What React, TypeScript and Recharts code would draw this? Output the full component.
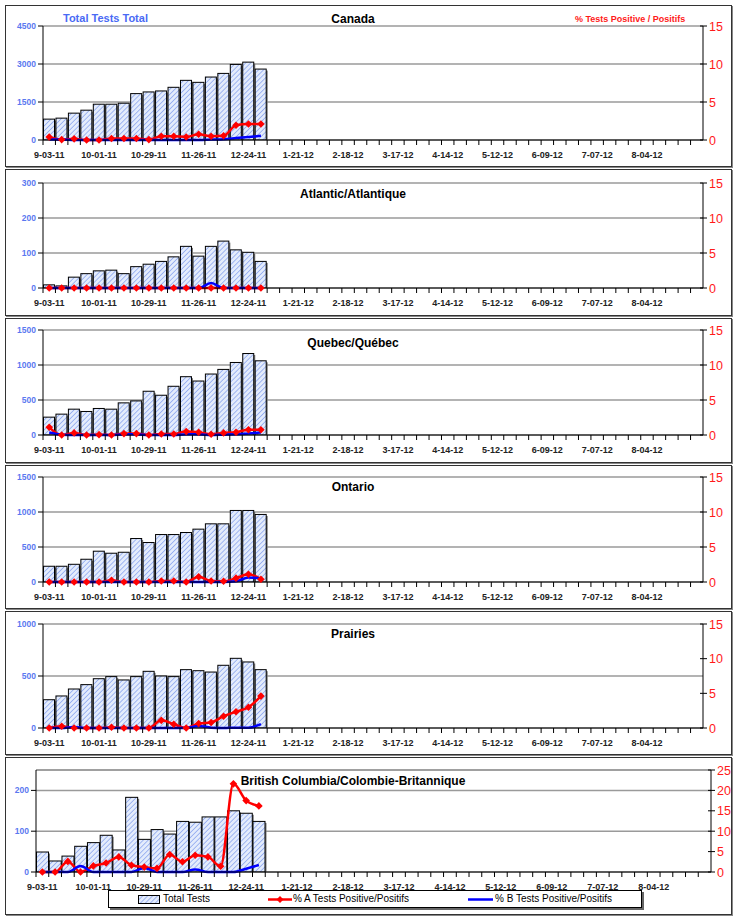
import { ComposedChart, Bar, Line, XAxis, YAxis, CartesianGrid, ReferenceLine } from "recharts";

// weekly categories, 9-03-11 .. 9-01-12
const WEEKS = [
  "9-03-11", "9-10-11", "9-17-11", "9-24-11", "10-01-11", "10-08-11", "10-15-11", "10-22-11",
  "10-29-11", "11-05-11", "11-12-11", "11-19-11", "11-26-11", "12-03-11", "12-10-11", "12-17-11",
  "12-24-11", "12-31-11", "1-07-12", "1-14-12", "1-21-12", "1-28-12", "2-04-12", "2-11-12",
  "2-18-12", "2-25-12", "3-03-12", "3-10-12", "3-17-12", "3-24-12", "3-31-12", "4-07-12",
  "4-14-12", "4-21-12", "4-28-12", "5-05-12", "5-12-12", "5-19-12", "5-26-12", "6-02-12",
  "6-09-12", "6-16-12", "6-23-12", "6-30-12", "7-07-12", "7-14-12", "7-21-12", "7-28-12",
  "8-04-12", "8-11-12", "8-18-12", "8-25-12", "9-01-12",
];

const CANADA_TOTAL = [824, 863, 1060, 1177, 1413, 1413, 1452, 1831, 1897, 1936, 2080, 2355, 2276, 2485, 2629, 2983, 3074, 2800];
const CANADA_A = [0.4, 0.05, 0.15, 0, 0, 0.2, 0.2, 0.2, 0.05, 0.5, 0.5, 0.4, 0.75, 0.5, 0.55, 1.95, 2.1, 2.1];
const CANADA_B = [0.05, 0.05, 0, 0, 0, 0, 0, 0, 0, 0, 0, 0, 0, 0.05, 0.1, 0.25, 0.4, 0.55];

const ATL_TOTAL = [9, 6, 31, 41, 49, 51, 41, 61, 68, 76, 89, 119, 91, 119, 134, 109, 102, 76];
const ATL_A = [0, 0, 0, 0, 0, 0, 0, 0, 0, 0, 0, 0, 0, 0, 0, 0, 0, 0];
const ATL_B = [0, 0, 0, 0, 0, 0, 0, 0, 0, 0, 0, 0, 0, 0.7, 0, 0, 0, 0];

const QC_TOTAL = [255, 298, 369, 336, 379, 369, 459, 487, 625, 568, 696, 833, 771, 871, 937, 1036, 1164, 1060];
const QC_A = [1.1, 0, 0.3, 0, 0.05, 0, 0.2, 0.2, 0, 0.15, 0.15, 0.5, 0.4, 0.1, 0.3, 0.4, 0.75, 0.75];
const QC_B = [0.35, 0.05, 0, 0, 0, 0, 0.1, 0.1, 0, 0, 0, 0.1, 0.1, 0, 0.05, 0.1, 0.2, 0.35];

const ON_TOTAL = [225, 225, 253, 325, 440, 411, 425, 621, 564, 678, 678, 707, 755, 831, 831, 1022, 1022, 965];
const ON_A = [0, 0, 0, 0, 0, 0.25, 0, 0, 0, 0.15, 0.15, 0, 0.75, 0.15, 0.1, 0.55, 1.1, 0.4];
const ON_B = [0, 0, 0, 0, 0, 0, 0, 0, 0, 0, 0, 0, 0, 0, 0, 0.1, 0.65, 0.5];

const PR_TOTAL = [272, 308, 375, 417, 474, 494, 462, 494, 545, 500, 494, 561, 551, 538, 603, 670, 635, 561];
const PR_A = [0, 0.25, 0, 0, 0, 0.1, 0, 0, 0, 1.1, 0.55, 0, 0.65, 0.8, 1.7, 2.35, 3.0, 4.6];
const PR_B = [0, 0, 0.15, 0, 0, 0, 0, 0, 0, 0, 0, 0, 0.3, 0.05, 0, 0.05, 0.05, 0.55];

const BC_TOTAL = [49, 27, 39, 63, 72, 90, 54, 183, 80, 104, 93, 124, 122, 135, 135, 150, 144, 124];
const BC_A = [0, 0, 2.6, 0, 1.5, 2.2, 3.7, 1.65, 1.2, 0.9, 4.3, 2.5, 4.1, 3.7, 1.4, 21.6, 17.5, 16.2];
const BC_B = [0, 0, 0, 1.5, 0, 0, 0, 0, 1.0, 0, 0, 0, 0.6, 0, 0, 0, 0.8, 1.7];

const PCT_TICKS = [0, 5, 10, 15];
const PCT_TICKS_BC = [0, 5, 10, 15, 20, 25];

// layout: box = frame top/bottom, plot = [top, bottom, left, right]
const PANELS = [
  { title: "Canada", total: CANADA_TOTAL, a: CANADA_A, b: CANADA_B, leftTicks: [0, 1500, 3000, 4500], leftMax: 4500, rightTicks: PCT_TICKS, box: [5, 167], plot: [26, 140, 43, 703], titleY: 19 },
  { title: "Atlantic/Atlantique", total: ATL_TOTAL, a: ATL_A, b: ATL_B, leftTicks: [0, 100, 200, 300], leftMax: 300, rightTicks: PCT_TICKS, box: [169, 316], plot: [183, 288, 43, 703], titleY: 194 },
  { title: "Quebec/Québec", total: QC_TOTAL, a: QC_A, b: QC_B, leftTicks: [0, 500, 1000, 1500], leftMax: 1500, rightTicks: PCT_TICKS, box: [318, 463], plot: [330, 435, 43, 703], titleY: 343 },
  { title: "Ontario", total: ON_TOTAL, a: ON_A, b: ON_B, leftTicks: [0, 500, 1000, 1500], leftMax: 1500, rightTicks: PCT_TICKS, box: [465, 609], plot: [477, 582, 43, 703], titleY: 487 },
  { title: "Prairies", total: PR_TOTAL, a: PR_A, b: PR_B, leftTicks: [0, 500, 1000], leftMax: 1000, rightTicks: PCT_TICKS, box: [611, 755], plot: [624, 728, 43, 703], titleY: 634 },
  { title: "British Columbia/Colombie-Britannique", total: BC_TOTAL, a: BC_A, b: BC_B, leftTicks: [0, 100, 200], leftMax: 250, rightTicks: PCT_TICKS_BC, box: [757, 915], plot: [770, 872, 36, 711], titleY: 781 },
];

const FONT = "'Liberation Sans', Arial, sans-serif";

function WeekTick(props: any) {
  const { x, y, index, payload, band } = props;
  const edge = x - band / 2;
  return (
    <g>
      <line x1={edge} x2={edge} y1={y} y2={y + 5} stroke="#000" strokeWidth={1} />
      {index % 4 === 0 && index < 52 && (
        <text x={x} y={y + 18} textAnchor="middle" fontSize={9} fontWeight="bold" fill="#222" fontFamily={FONT}>
          {payload.value}
        </text>
      )}
    </g>
  );
}

function LeftTick(props: any) {
  const { x, y, payload } = props;
  return (
    <g>
      <line x1={x - 5} x2={x} y1={y} y2={y} stroke="#000" />
      <text x={x - 7} y={y + 3} textAnchor="end" fontSize={8.5} fontWeight="bold" fill="#5a78f0" fontFamily={FONT}>
        {payload.value}
      </text>
    </g>
  );
}

function RightTick(props: any) {
  const { x, y, payload } = props;
  return (
    <g>
      <line x1={x - 3} x2={x + 4} y1={y} y2={y} stroke="#000" />
      <text x={x + 6} y={y + 4.5} fontSize={12.5} fill="#ff1a1a" fontFamily={FONT}>
        {payload.value}
      </text>
    </g>
  );
}

function Diamond(props: any) {
  const { cx, cy, index, value } = props;
  if (cx == null || cy == null || value == null) return <g key={index} />;
  const r = 3.8;
  return (
    <polygon
      key={index}
      points={`${cx},${cy - r} ${cx + r},${cy} ${cx},${cy + r} ${cx - r},${cy}`}
      fill="#ff0000"
    />
  );
}

function ShadowBar(props: any) {
  const { x, y, width, height } = props;
  if (!height || height <= 0) return <g />;
  return (
    <g>
      <rect x={x + 1.5} y={y + 1.5} width={width} height={height - 1.5} fill="#777" />
      <rect x={x} y={y} width={width} height={height} fill="url(#hatch)" stroke="#000" strokeWidth={1} />
    </g>
  );
}

function RegionChart({ p }: { p: any }) {
  const [pt, pb, pl, pr] = p.plot;
  const MT = 10;
  const XH = 30;
  const LW = 30;
  const RW = 25;
  const h = pb - pt + MT + XH;
  const band = (pr - pl) / WEEKS.length;
  const rows = WEEKS.map((w, i) => ({ week: w, total: p.total[i], a: p.a[i], b: p.b[i] }));
  const rightMax = p.rightTicks[p.rightTicks.length - 1];
  return (
    <div style={{ position: "absolute", left: 0, top: pt - MT, width: 740, height: h }}>
      <ComposedChart
        width={740}
        height={h}
        data={rows}
        margin={{ top: MT, bottom: 0, left: pl - LW, right: 740 - pr - RW }}
        barCategoryGap={0.5}
      >
        <CartesianGrid vertical={false} stroke="#9a9a9a" strokeWidth={1.5} />
        <XAxis
          dataKey="week"
          interval={0}
          height={XH}
          tickSize={0}
          tickMargin={0}
          tickLine={false}
          axisLine={{ stroke: "#000" }}
          tick={(t: any) => <WeekTick {...t} band={band} />}
        />
        <YAxis
          domain={[0, p.leftMax]}
          ticks={p.leftTicks}
          interval={0}
          width={LW}
          tickSize={0}
          tickMargin={0}
          tickLine={false}
          axisLine={{ stroke: "#000" }}
          tick={(t: any) => <LeftTick {...t} />}
          allowDataOverflow
        />
        <YAxis
          yAxisId="right"
          orientation="right"
          domain={[0, rightMax]}
          ticks={p.rightTicks}
          interval={0}
          width={RW}
          tickSize={0}
          tickMargin={0}
          tickLine={false}
          axisLine={{ stroke: "#000" }}
          tick={(t: any) => <RightTick {...t} />}
        />
        {p.leftMax !== p.leftTicks[p.leftTicks.length - 1] && (
          <ReferenceLine y={p.leftMax} stroke="#9a9a9a" strokeWidth={1.5} />
        )}
        <Bar dataKey="total" shape={(s: any) => <ShadowBar {...s} />} isAnimationActive={false} />
        <Line yAxisId="right" type="monotone" dataKey="a" stroke="#ff0000" strokeWidth={2.5} dot={false} isAnimationActive={false} />
        <Line yAxisId="right" type="monotone" dataKey="b" stroke="#0000ff" strokeWidth={2.5} dot={false} isAnimationActive={false} />
        <Line yAxisId="right" type="monotone" dataKey="a" stroke="none" dot={(d: any) => <Diamond {...d} />} isAnimationActive={false} />
      </ComposedChart>
    </div>
  );
}

export default function App() {
  return (
    <div style={{ position: "absolute", left: 0, top: 0, width: 740, height: 920, background: "#fff", fontFamily: FONT }}>
      <svg width={0} height={0} style={{ position: "absolute" }}>
        <defs>
          <pattern id="hatch" width={3.5} height={3.5} patternUnits="userSpaceOnUse" patternTransform="rotate(45)">
            <rect width={3.5} height={3.5} fill="#e4ecfc" />
            <line x1={0} y1={0} x2={0} y2={3.5} stroke="#89a4ee" strokeWidth={1.5} />
          </pattern>
        </defs>
      </svg>

      {PANELS.map((p) => (
        <div
          key={p.title + "-box"}
          style={{
            position: "absolute",
            left: 5,
            top: p.box[0],
            width: 727,
            height: p.box[1] - p.box[0],
            border: "1px solid #333",
            boxShadow: "1px 1px 0 #888",
            boxSizing: "border-box",
          }}
        />
      ))}

      {PANELS.map((p) => (
        <RegionChart key={p.title} p={p} />
      ))}

      {PANELS.map((p) => (
        <div
          key={p.title + "-title"}
          style={{
            position: "absolute",
            left: 353,
            top: p.titleY,
            transform: "translate(-50%, -50%)",
            fontSize: 12,
            fontWeight: "bold",
            color: "#000",
            whiteSpace: "nowrap",
          }}
        >
          {p.title}
        </div>
      ))}

      <div style={{ position: "absolute", left: 63, top: 12, fontSize: 11, fontWeight: "bold", color: "#4a6af5", whiteSpace: "nowrap" }}>
        Total Tests Total
      </div>
      <div style={{ position: "absolute", left: 575, top: 14, fontSize: 9, fontWeight: "bold", color: "#ff1a1a", whiteSpace: "nowrap" }}>
        % Tests Positive / Positifs
      </div>

      <div
        style={{
          position: "absolute",
          left: 108,
          top: 890,
          width: 534,
          height: 18,
          border: "1px solid #000",
          boxShadow: "2px 2px 0 #666",
          background: "#fff",
          boxSizing: "border-box",
          fontSize: 10,
          color: "#000",
        }}
      >
        <svg width={22} height={9} style={{ position: "absolute", left: 29, top: 3.5 }}>
          <rect x={0.5} y={0.5} width={21} height={8} fill="url(#hatch)" stroke="#000" />
        </svg>
        <span style={{ position: "absolute", left: 54, top: 2, whiteSpace: "nowrap" }}>Total Tests</span>
        <svg width={24} height={9} style={{ position: "absolute", left: 159, top: 3.5 }}>
          <line x1={0} x2={24} y1={4.5} y2={4.5} stroke="#ff0000" strokeWidth={2.5} />
          <polygon points="12,1 15.5,4.5 12,8 8.5,4.5" fill="#ff0000" />
        </svg>
        <span style={{ position: "absolute", left: 184, top: 2, whiteSpace: "nowrap" }}>% A Tests Positive/Positifs</span>
        <svg width={25} height={9} style={{ position: "absolute", left: 359, top: 3.5 }}>
          <line x1={0} x2={25} y1={4.5} y2={4.5} stroke="#0000ff" strokeWidth={2.5} />
        </svg>
        <span style={{ position: "absolute", left: 386, top: 2, whiteSpace: "nowrap" }}>% B Tests Positive/Positifs</span>
      </div>
    </div>
  );
}
